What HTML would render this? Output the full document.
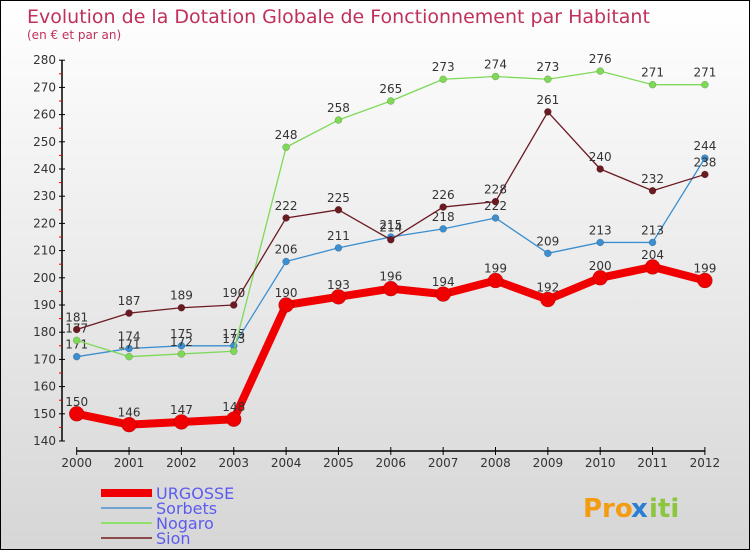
<!DOCTYPE html>
<html><head><meta charset="utf-8"><style>
body{margin:0}
#c{width:748px;height:548px;border:1px solid #000;background:linear-gradient(#fff,#d6d6d6);position:relative;font-family:"DejaVu Sans","Liberation Sans",sans-serif;overflow:hidden}
svg text{font-family:"DejaVu Sans","Liberation Sans",sans-serif}
</style></head><body>
<div id="c">
<svg id="s" width="748" height="548" xmlns="http://www.w3.org/2000/svg">
<text x="26" y="22" font-size="19" fill="#c0305a">Evolution de la Dotation Globale de Fonctionnement par Habitant</text>
<text x="26" y="38" font-size="12" fill="#c0305a">(en € et par an)</text>
<g id="ax"></g><g id="series"></g><g id="lg"></g>
<g font-size="26" font-weight="bold">
<text x="582" y="516" fill="#f39c12">Pro</text><text x="630" y="516" fill="#2a7fd4">x</text><text x="648" y="516" fill="#8cc63f">iti</text>
</g>
</svg></div>
<script>
const years=[2000,2001,2002,2003,2004,2005,2006,2007,2008,2009,2010,2011,2012];
const yTicks=[140,150,160,170,180,190,200,210,220,230,240,250,260,270,280];
const urgosse=[150,146,147,148,190,193,196,194,199,192,200,204,199];
const sorbets=[171,174,175,175,206,211,215,218,222,209,213,213,244];
const nogaro=[177,171,172,173,248,258,265,273,274,273,276,271,271];
const sion=[181,187,189,190,222,225,214,226,228,261,240,232,238];
const NS="http://www.w3.org/2000/svg";
function X(i){return 75.7+i*52.35;}
function Y(v){return 440-(v-140)*2.72;}
function mk(t,a,p){const e=document.createElementNS(NS,t);for(const k in a)e.setAttribute(k,a[k]);(p||document.getElementById('s')).appendChild(e);return e;}
const ax=document.getElementById('ax');
let yl=mk('line',{x1:61,y1:Y(280),x2:61,y2:Y(140),stroke:'#000','stroke-width':1.5},ax);


yTicks.forEach(v=>{
 mk('line',{x1:58,y1:Y(v),x2:64,y2:Y(v),stroke:'#000'},ax);
 if(v<280)mk('line',{x1:58,y1:Y(v+5),x2:61,y2:Y(v+5),stroke:'#e00'},ax);
 const t=mk('text',{x:55,y:Y(v)+4,'font-size':12,fill:'#333','text-anchor':'end'},ax);t.textContent=v;
 
 
});
let xl=mk('line',{x1:X(0),y1:450,x2:X(12),y2:450,stroke:'#000','stroke-width':1.5},ax);


years.forEach((y,i)=>{
 mk('line',{x1:X(i),y1:446,x2:X(i),y2:454,stroke:'#000'},ax);
 const t=mk('text',{x:X(i),y:466,'font-size':12,fill:'#333','text-anchor':'middle'},ax);t.textContent=y;
 
 
});
const sg=document.getElementById('series');
function draw(data,col,w,r,name){
 const g=mk('g',{},sg);
 
 
 mk('polyline',{points:data.map((v,i)=>X(i)+','+Y(v)).join(' '),fill:'none',stroke:col,'stroke-width':w,'stroke-linejoin':'round'},g);
 data.forEach((v,i)=>{
  const c=mk('circle',{cx:X(i),cy:Y(v),r:r,fill:col,stroke:'rgba(0,0,0,0.3)','stroke-width':0.5},g);
  
  
  const t=mk('text',{x:X(i),y:Y(v)-8,'font-size':12,fill:'#333','text-anchor':'middle'},g);t.textContent=v;
  
  
 });
}
draw(sorbets,'#3b8fd0',1.3,3.5,'sorbets');
draw(nogaro,'#7ed957',1.3,3.5,'nogaro');
draw(sion,'#6b1a22',1.3,3.5,'sion');
draw(urgosse,'#f00000',8,7.5,'urgosse');
const lg=document.getElementById('lg');
[['URGOSSE','#f00000',8],['Sorbets','#6fa3d0',2],['Nogaro','#8ee06a',2],['Sion','#8a4a4a',2]].forEach((e,i)=>{
 const y=492+i*15;
 const g=mk('g',{},lg);
 
 
 mk('line',{x1:100,y1:y,x2:151,y2:y,stroke:e[1],'stroke-width':e[2]},g);
 const t=mk('text',{x:155,y:y+6,'font-size':16,fill:'#5b5bf0'},g);t.textContent=e[0];
});
</script>
</body></html>
